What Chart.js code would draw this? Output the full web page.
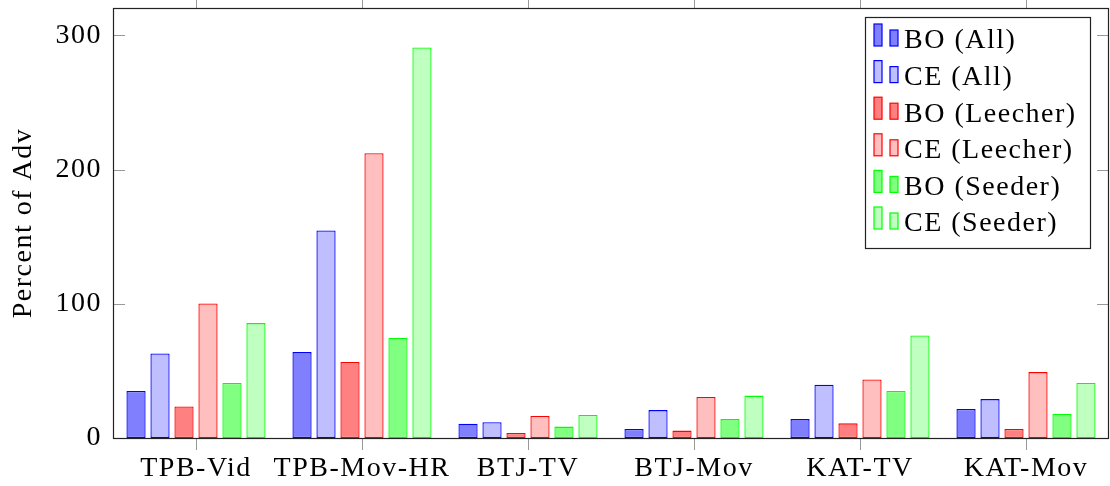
<!DOCTYPE html>
<html>
<head>
<meta charset="utf-8">
<script src="https://cdn.jsdelivr.net/npm/chart.js@4/dist/chart.umd.min.js"></script>
<style>
  html, body { margin: 0; padding: 0; background: #fff; }
  #wrap { width: 1110px; height: 486px; }
</style>
</head>
<body>
<div id="wrap"><canvas id="chart"></canvas></div>
<script>
// -------- data
const categories = ['TPB-Vid', 'TPB-Mov-HR', 'BTJ-TV', 'BTJ-Mov', 'KAT-TV', 'KAT-Mov'];
const bo_all     = [35, 64, 10.7, 6.7, 14.1, 21.6];
const ce_all     = [63, 154.6, 11.7, 20.8, 39.7, 29];
const bo_leecher = [23.5, 56.6, 3.7, 5.5, 10.9, 6.7];
const ce_leecher = [100.2, 212.2, 16.4, 30.5, 43.6, 49.1];
const bo_seeder  = [41, 74.5, 8.5, 14.1, 35, 17.9];
const ce_seeder  = [85.6, 291, 17.1, 31.6, 76.4, 41];
const y_ticks    = [0, 100, 200, 300];

const FONT = "'Liberation Serif', 'DejaVu Serif', serif";

function series(label, data, fill, line){
	return {
		label: label,
		data: data,
		backgroundColor: fill,
		borderColor: line,
		borderWidth: 1.3,
		borderSkipped: false,
		categoryPercentage: 0.867,
		barPercentage: 0.8
	};
}

const datasets = [
	series('BO (All)', bo_all, '#8080ff', '#0000ff'),
	series('CE (All)', ce_all, '#bfbfff', '#0000ff'),
	series('BO (Leecher)', bo_leecher, '#ff8080', '#ff0000'),
	series('CE (Leecher)', ce_leecher, '#ffbfbf', '#ff0000'),
	series('BO (Seeder)', bo_seeder, '#80ff80', '#00ff00'),
	series('CE (Seeder)', ce_seeder, '#bfffbf', '#00ff00')
];

// frame + mirrored ticks, pgfplots style
const framePlugin = {
	id: 'frame',
	beforeLayout(chart){ chart.ctx.letterSpacing = '1.5px'; },
	afterDraw(chart){
		const ctx = chart.ctx;
		const a = chart.chartArea;
		const xs = chart.scales.x, ys = chart.scales.y;
		ctx.save();
		ctx.letterSpacing = '0px';
		ctx.strokeStyle = '#999';
		ctx.lineWidth = 1;
		ctx.beginPath();
		categories.forEach(function(c, i){
			var px = Math.round(xs.getPixelForTick(i)) + 0.5;
			ctx.moveTo(px, a.top); ctx.lineTo(px, a.top - 8);
			ctx.moveTo(px, a.bottom); ctx.lineTo(px, a.bottom + 12);
		});
		y_ticks.forEach(function(v){
			var py = Math.round(ys.getPixelForValue(v)) + 0.5;
			ctx.moveTo(a.left, py); ctx.lineTo(a.left + 12, py);
			ctx.moveTo(a.right, py); ctx.lineTo(a.right - 12, py);
		});
		ctx.stroke();
		ctx.strokeStyle = '#222';
		ctx.lineWidth = 1.2;
		ctx.strokeRect(a.left + 0.5, a.top + 0.5, a.right - a.left - 1, a.bottom - a.top);
		ctx.restore();
	}
};

// legend box with two little bars per entry
const legendPlugin = {
	id: 'barlegend',
	afterDraw(chart){
		const ctx = chart.ctx;
		const a = chart.chartArea;
		const bx = a.right - 244, by = a.top + 9, bw = 225, bh = 231;
		ctx.save();
		ctx.fillStyle = '#fff';
		ctx.fillRect(bx, by, bw, bh);
		ctx.strokeStyle = '#222';
		ctx.lineWidth = 1.2;
		ctx.strokeRect(bx + 0.5, by + 0.5, bw, bh);
		ctx.font = '28px ' + FONT;
		ctx.letterSpacing = '1.5px';
		ctx.textBaseline = 'middle';
		ctx.fillStyle = '#000';
		chart.data.datasets.forEach(function(ds, i){
			var cy = by + 24 + i * 36.6;
			ctx.fillStyle = ds.backgroundColor;
			ctx.strokeStyle = ds.borderColor;
			ctx.lineWidth = 1.2;
			ctx.fillRect(bx + 9, cy - 17, 8, 22);
			ctx.strokeRect(bx + 9, cy - 17, 8, 22);
			ctx.fillRect(bx + 25, cy - 11, 8, 16);
			ctx.strokeRect(bx + 25, cy - 11, 8, 16);
			ctx.fillStyle = '#000';
			ctx.fillText(ds.label, bx + 39, cy);
		});
		ctx.restore();
	}
};

new Chart(document.getElementById('chart'), {
	type: 'bar',
	data: { labels: categories, datasets: datasets },
	plugins: [framePlugin, legendPlugin],
	options: {
		responsive: true,
		maintainAspectRatio: false,
		animation: false,
		layout: { padding: { top: 8, right: 1, left: 0, bottom: 0 } },
		plugins: { legend: { display: false }, tooltip: { enabled: false } },
		scales: {
			x: {
				grid: { display: false, drawTicks: false },
				border: { display: false },
				ticks: { color: '#000', font: { family: FONT, size: 28 }, padding: 14, maxRotation: 0, autoSkip: false },
				afterFit: function(s){ s.height = 48; s.paddingLeft = 0; s.paddingRight = 0; }
			},
			y: {
				min: 0,
				max: 320.4,
				afterBuildTicks: function(s){ s.ticks = y_ticks.map(v => ({ value: v })); },
				grid: { display: false, drawTicks: false },
				border: { display: false },
				ticks: { color: '#000', font: { family: FONT, size: 28 }, padding: 11 },
				title: { display: true, text: 'Percent of Adv', color: '#000', font: { family: FONT, size: 28 }, padding: { top: 7, bottom: 0 } },
				afterFit: function(s){ s.width = 113; s.paddingTop = 0; s.paddingBottom = 0; }
			}
		}
	}
});
</script>
</body>
</html>
